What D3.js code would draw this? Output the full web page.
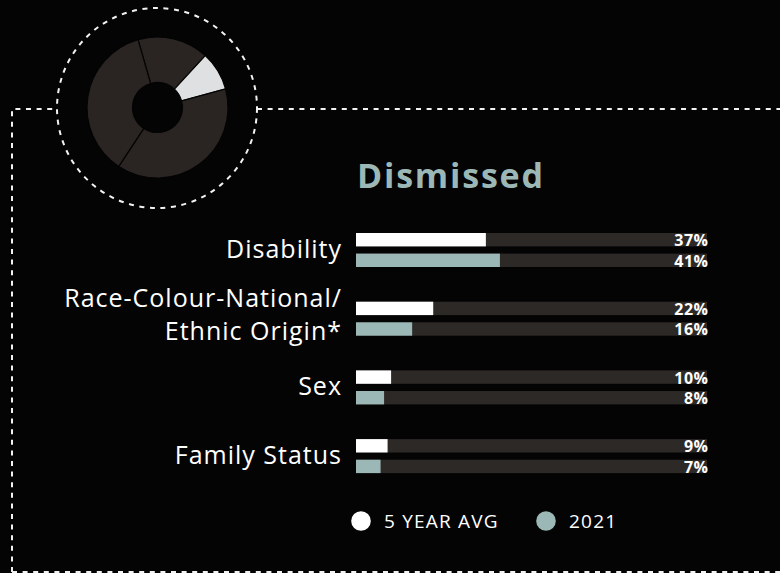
<!DOCTYPE html>
<html>
<head>
<meta charset="utf-8">
<script src="https://cdn.jsdelivr.net/npm/d3@7"></script>
<style>
  html, body { margin: 0; padding: 0; background: #040404; }
  svg { display: block; }
  text { font-family: "Open Sans", "Noto Sans", sans-serif; }
</style>
</head>
<body>
<svg id="chart" width="780" height="573"></svg>
<script>
// data
var categories = ["Disability", "Race-Colour-National/|Ethnic Origin*", "Sex", "Family Status"];
var avg5 = [37, 22, 10, 9];
var y2021 = [41, 16, 8, 7];
var seriesNames = ["5 YEAR AVG", "2021"];
var donutValues = [16.3, 8.9, 38.5, 36.3];
var donutHighlight = 1;
var title = "Dismissed";

var W = 780, H = 573,
  teal = "#9cb8b6",
  track = "#2d2927",
  dashes = "5,5.6";

var svg = d3.select("#chart");

// dashed frame + circle
var frame = svg.append("g")
  .attr("fill", "none")
  .attr("stroke", "#f2f2f2")
  .attr("stroke-width", 2)
  .attr("stroke-dasharray", dashes);

var cx = 157, cy = 108, ringR = 100;

frame.append("path")
  .attr("d", d3.line()([[12, 572], [12, 109], [cx - ringR, 109]]));
frame.append("path")
  .attr("d", d3.line()([[cx + ringR, 109], [W, 109]]));
frame.append("path")
  .attr("d", d3.line()([[12, 572], [W, 572]]));
frame.append("circle")
  .attr("cx", cx).attr("cy", cy).attr("r", ringR);

// donut
var pie = d3.pie().sort(null)
  .startAngle(-16 * Math.PI / 180)
  .endAngle(344 * Math.PI / 180);
var arc = d3.arc().innerRadius(25).outerRadius(70.5);

svg.append("g")
  .attr("transform", "translate(" + (cx + 0.5) + "," + (cy - 0.5) + ")")
  .selectAll("path")
  .data(pie(donutValues))
  .join("path")
  .attr("d", arc)
  .attr("fill", function(d, i){ return i === donutHighlight ? "#dfe0e2" : "#2a2523"; })
  .attr("stroke", "#040404")
  .attr("stroke-width", 1.2);

// title
svg.append("text")
  .attr("x", 357).attr("y", 188)
  .attr("fill", teal)
  .attr("font-size", 34)
  .attr("font-weight", 700)
  .attr("letter-spacing", 1.8)
  .text(title);

// bars
var x = d3.scaleLinear().domain([0, 100]).range([356, 707]);
var y = d3.scaleBand().domain(categories).range([233, 233 + 4 * 68.7]);
var sub = d3.scaleBand().domain(seriesNames).range([0, 34]).paddingInner(0.35);
var colors = ["#ffffff", teal];

var rows = categories.map(function(c, i){
  return { cat: c, vals: [avg5[i], y2021[i]] };
});

var groups = svg.append("g").selectAll("g")
  .data(rows)
  .join("g")
  .attr("transform", function(d){ return "translate(0," + y(d.cat) + ")"; });

groups.selectAll("rect.track")
  .data(function(d){ return d.vals; })
  .join("rect")
  .attr("class", "track")
  .attr("x", x(0))
  .attr("y", function(d, i){ return sub(seriesNames[i]); })
  .attr("width", x(100) - x(0))
  .attr("height", sub.bandwidth())
  .attr("fill", track);

groups.selectAll("rect.bar")
  .data(function(d){ return d.vals; })
  .join("rect")
  .attr("class", "bar")
  .attr("x", x(0))
  .attr("y", function(d, i){ return sub(seriesNames[i]); })
  .attr("width", function(d){ return x(d) - x(0); })
  .attr("height", sub.bandwidth())
  .attr("fill", function(d, i){ return colors[i]; });

groups.selectAll("text.val")
  .data(function(d){ return d.vals; })
  .join("text")
  .attr("class", "val")
  .attr("x", x(100) + 1.5)
  .attr("y", function(d, i){ return sub(seriesNames[i]) + sub.bandwidth() - 0.3; })
  .attr("text-anchor", "end")
  .attr("fill", "#ffffff")
  .attr("font-size", 16)
  .attr("font-weight", 700)
  .attr("letter-spacing", 0.5)
  .text(function(d){ return d + "%"; });

// category labels
groups.append("text")
  .attr("text-anchor", "end")
  .attr("fill", "#ffffff")
  .attr("font-size", 25)
  .attr("letter-spacing", 1)
  .each(function(d){
    var lines = d.cat.split("|");
    var t = d3.select(this);
    lines.forEach(function(l, k){
      var base = lines.length === 1 ? 24.5 : 5 + k * 33;
      t.append("tspan").attr("x", 342).attr("y", base).text(l);
    });
  });

// legend
var legend = svg.append("g").attr("transform", "translate(0,521)");
var lx = [361, 546];
seriesNames.forEach(function(s, i){
  legend.append("circle")
    .attr("cx", lx[i]).attr("cy", 0).attr("r", 9.8)
    .attr("fill", colors[i]);
  legend.append("text")
    .attr("x", lx[i] + 23).attr("y", 7)
    .attr("fill", "#ffffff")
    .attr("font-size", 19)
    .attr("letter-spacing", 1.2)
    .text(s);
});
</script>
</body>
</html>
